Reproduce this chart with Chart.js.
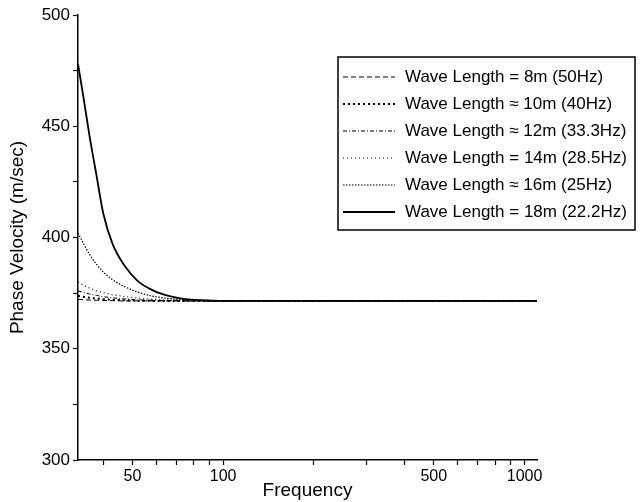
<!DOCTYPE html>
<html><head><meta charset="utf-8">
<script src="https://cdn.jsdelivr.net/npm/chart.js@4"></script>
<style>html,body{margin:0;padding:0;background:#fff}#c{display:block}</style>
</head><body>
<canvas id="c" width="640" height="502"></canvas>
<script>
// ---- data ----
const frequency = [33, 34.5, 36, 38, 40, 43, 47, 52, 59, 67, 75, 85, 100, 200, 500, 1100];
const wave8m  = [372.2, 372.0, 371.9, 371.8, 371.7, 371.6, 371.5, 371.5, 371.5, 371.5, 371.5, 371.5, 371.5, 371.5, 371.5, 371.5];
const wave10m = [373.8, 373.3, 372.9, 372.6, 372.3, 372.0, 371.8, 371.6, 371.5, 371.5, 371.5, 371.5, 371.5, 371.5, 371.5, 371.5];
const wave12m = [376.0, 375.3, 374.6, 374.0, 373.4, 372.9, 372.4, 372.0, 371.8, 371.6, 371.5, 371.5, 371.5, 371.5, 371.5, 371.5];
const wave14m = [380.0, 378.5, 377.3, 376.0, 375.2, 374.3, 373.5, 372.8, 372.2, 371.9, 371.7, 371.6, 371.5, 371.5, 371.5, 371.5];
const wave16m = [402.0, 397.0, 392.5, 388.0, 384.5, 381.0, 378.0, 375.5, 373.5, 372.5, 372.0, 371.7, 371.5, 371.5, 371.5, 371.5];
const wave18m = [478.0, 462.0, 446.0, 428.0, 411.0, 397.0, 387.5, 380.5, 376.0, 373.5, 372.3, 371.8, 371.5, 371.5, 371.5, 371.5];
const seriesLabels = [
  'Wave Length = 8m (50Hz)',
  'Wave Length \u2248 10m (40Hz)',
  'Wave Length \u2248 12m (33.3Hz)',
  'Wave Length = 14m (28.5Hz)',
  'Wave Length \u2248 16m (25Hz)',
  'Wave Length = 18m (22.2Hz)'
];
const xTickValues = [40, 50, 60, 70, 80, 90, 100, 200, 300, 400, 500, 600, 700, 800, 900, 1000];
const xTickLabels = [50, 100, 500, 1000];
const yTickValues = [300, 325, 350, 375, 400, 425, 450, 475, 500];
const yTickLabels = [300, 350, 400, 450, 500];

const seriesValues = [wave8m, wave10m, wave12m, wave14m, wave16m, wave18m];
const seriesStyles = [
  {borderDash: [5, 3], borderWidth: 1},
  {borderDash: [2, 3], borderWidth: 2},
  {borderDash: [4, 2, 1, 2], borderWidth: 1},
  {borderDash: [1, 3], borderWidth: 1.2},
  {borderDash: [1.5, 1.5], borderWidth: 1.2},
  {borderDash: [], borderWidth: 1.8}
];

const FONT = '"Liberation Sans", Arial, Helvetica, sans-serif';

const datasets = seriesValues.map((vals, i) => ({
  label: seriesLabels[i],
  data: frequency.map((f, j) => ({x: f, y: vals[j]})),
  borderColor: '#000',
  backgroundColor: '#000',
  pointRadius: 0,
  fill: false,
  cubicInterpolationMode: 'monotone',
  ...seriesStyles[i]
}));

const boxLegend = {
  id: 'boxLegend',
  afterDraw(chart) {
    const ctx = chart.ctx;
    ctx.save();
    const bx = 338, by = 57, bw = 297, bh = 173;
    ctx.lineWidth = 1.5; ctx.strokeStyle = '#000'; ctx.setLineDash([]);
    ctx.strokeRect(bx, by, bw, bh);
    ctx.font = '17px ' + FONT; ctx.fillStyle = '#000'; ctx.textBaseline = 'middle'; ctx.textAlign = 'left';
    chart.data.datasets.forEach((ds, i) => {
      const y = by + 20 + i * 27;
      ctx.beginPath();
      ctx.setLineDash(ds.borderDash || []);
      ctx.lineWidth = ds.borderWidth;
      ctx.moveTo(bx + 5, y); ctx.lineTo(bx + 57, y); ctx.stroke();
      ctx.setLineDash([]);
      ctx.fillText(ds.label, bx + 67, y);
    });
    ctx.restore();
  }
};

new Chart(document.getElementById('c'), {
  type: 'line',
  data: {datasets},
  plugins: [boxLegend],
  options: {
    responsive: false,
    animation: false,
    layout: {padding: {top: 15, right: 103, bottom: 0, left: 0}},
    plugins: {legend: {display: false}, tooltip: {enabled: false}},
    scales: {
      x: {
        type: 'logarithmic',
        min: 33, max: 1100,
        afterBuildTicks: s => { s.ticks = xTickValues.map(v => ({value: v})); },
        afterFit: s => { s.height = 42; },
        border: {display: true, color: '#000', width: 1.5},
        grid: {display: true, drawOnChartArea: false, drawTicks: true, tickLength: 5, tickColor: '#000', tickWidth: 1.2},
        ticks: {
          autoSkip: false, maxRotation: 0, padding: 2, color: '#000',
          font: {family: FONT, size: 16},
          callback: v => xTickLabels.includes(v) ? String(v) : ''
        },
        title: {display: true, text: 'Frequency', color: '#000', font: {family: FONT, size: 19}, padding: {top: 0, bottom: 0}}
      },
      y: {
        type: 'linear',
        min: 300, max: 500,
        afterBuildTicks: s => { s.ticks = yTickValues.map(v => ({value: v})); },
        afterFit: s => { s.width = 78; },
        border: {display: true, color: '#000', width: 1.5},
        grid: {display: true, drawOnChartArea: false, drawTicks: true, tickLength: 5, tickColor: '#000', tickWidth: 1.2},
        ticks: {
          autoSkip: false, padding: 3, color: '#000',
          font: {family: FONT, size: 17},
          callback: v => yTickLabels.includes(v) ? String(v) : ''
        },
        title: {display: true, text: 'Phase Velocity (m/sec)', color: '#000', font: {family: FONT, size: 19}, padding: {top: 6, bottom: 0}}
      }
    }
  }
});
</script>
</body></html>
